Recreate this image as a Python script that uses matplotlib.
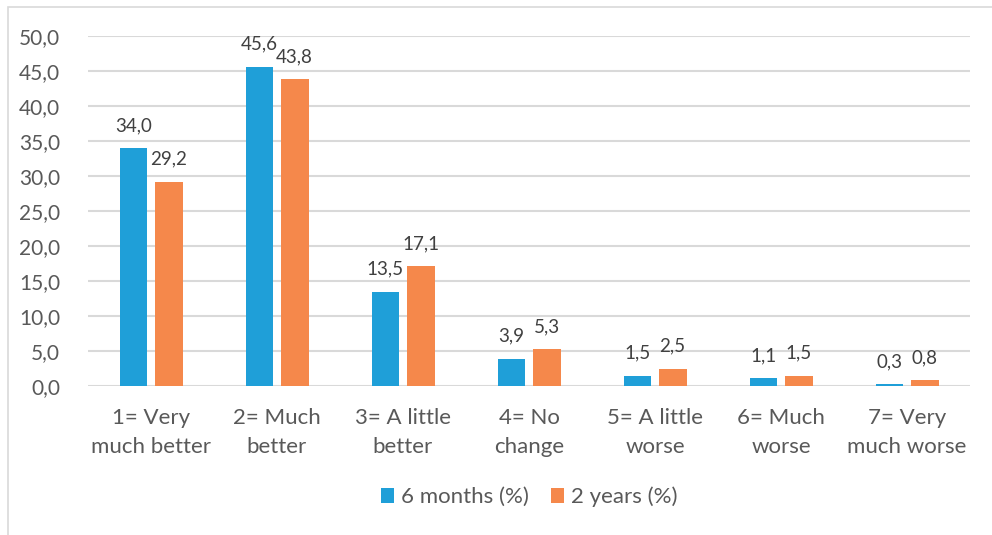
import matplotlib.pyplot as plt
import numpy as np
from matplotlib.patches import Rectangle

categories = ["1= Very\nmuch better", "2= Much\nbetter", "3= A little\nbetter",
              "4= No\nchange", "5= A little\nworse", "6= Much\nworse", "7= Very\nmuch worse"]
six_months = [34.0, 45.6, 13.5, 3.9, 1.5, 1.1, 0.3]
two_years = [29.2, 43.8, 17.1, 5.3, 2.5, 1.5, 0.8]
series_names = ["6 months (%)", "2 years (%)"]
yticks = [0, 5, 10, 15, 20, 25, 30, 35, 40, 45, 50]

blue = "#1F9FD8"
orange = "#F5884B"
txt = "#595959"
plt.rcParams['font.family'] = ['Lato', 'DejaVu Sans']

fig = plt.figure(figsize=(9.92, 5.35), dpi=100)
# light outer frame
fig.patches.append(Rectangle((8 / 992, -0.1), 1.2, 1 - 7 / 535 + 0.1,
                             transform=fig.transFigure, fill=False,
                             edgecolor="#D9D9D9", linewidth=1.2))

ax = fig.add_axes([88 / 992, 1 - 386 / 535, (970 - 88) / 992, (386 - 36) / 535])
x = np.arange(len(categories))
w = 0.22
off = 0.14
b1 = ax.bar(x - off, six_months, w, color=blue, label=series_names[0], zorder=3)
b2 = ax.bar(x + off, two_years, w, color=orange, label=series_names[1], zorder=3)

for bars, vals in ((b1, six_months), (b2, two_years)):
    for r, v in zip(bars, vals):
        ax.text(r.get_x() + r.get_width() / 2, v + 2.0, f"{v:.1f}".replace(".", ","),
                ha="center", va="bottom", fontsize=13.5, color="#404040")

ax.set_xlim(-0.5, len(categories) - 0.5)
ax.set_ylim(0, 50)
ax.set_yticks(yticks)
ax.set_yticklabels([f"{t:.1f}".replace(".", ",") for t in yticks], fontsize=15)
ax.set_xticks(x)
ax.set_xticklabels(categories, linespacing=1.55, fontsize=16)
ax.tick_params(axis="both", length=0, colors=txt)
ax.tick_params(axis="y", pad=20)
ax.tick_params(axis="x", pad=16)
for s in ax.spines.values():
    s.set_visible(False)
ax.yaxis.grid(True, color="#D9D9D9", linewidth=1.5, zorder=0)
ax.set_axisbelow(True)

leg = ax.legend(loc="center", bbox_to_anchor=(0.5, (386 - 497) / 350), ncol=2,
                frameon=False, fontsize=16, handlelength=0.6, handleheight=0.6,
                handletextpad=0.3, columnspacing=1.0)
for t in leg.get_texts():
    t.set_color(txt)

fig.savefig("out.png", dpi=100)
